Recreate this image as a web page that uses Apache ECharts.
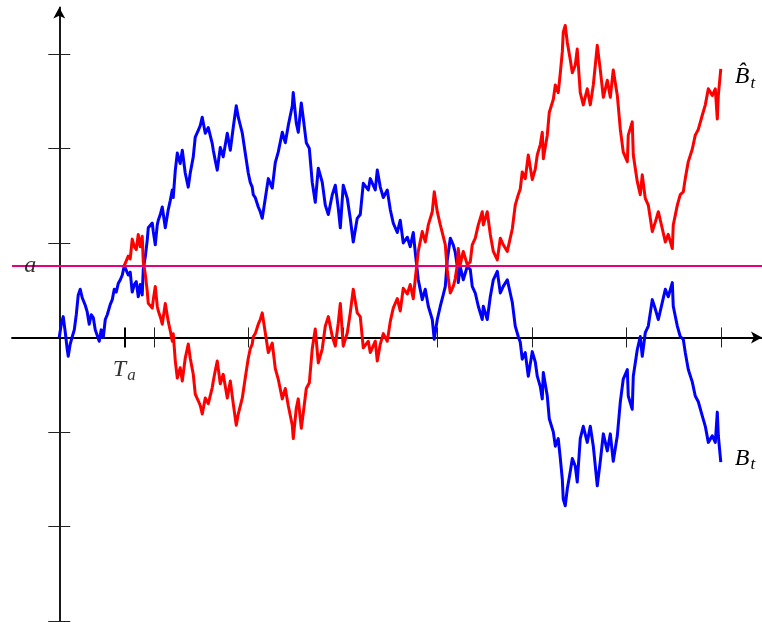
<!DOCTYPE html>
<html>
<head>
<meta charset="utf-8">
<script src="https://cdn.jsdelivr.net/npm/echarts@6/dist/echarts.min.js"></script>
<style>
  html, body { margin: 0; padding: 0; background: #fff; }
  #chart { width: 762px; height: 622px; }
</style>
</head>
<body>
<div id="chart"></div>
<script>
// Barrier level a and its first hitting time T_a
const aLevel = 0.76;
const hitTime = 0.688;

// Path B_t before T_a
const tBefore = [0, .021, .042, .063, .085, .095, .116, .138, .159, .180, .201, .222, .243, .275, .296, .317,
  .339, .360, .381, .402, .423, .444, .466, .487, .508, .540, .561, .582, .603, .624, .646, .667];
const bBefore = [0, .14, .22, .06, -.13, -.20, -.07, .01, .08, .24, .45, .51, .42, .34, .27, .14,
  .24, .21, .08, .02, -.04, .08, 0, .19, .24, .35, .40, .51, .48, .57, .61, .66];

// Times after T_a
const tAfter = [
  .709, .730, .751, .772, .794, .815, .836, .857, .878, .889,
  .910, .931, .942, .963, .984, .995, 1.016, 1.037, 1.048, 1.069,
  1.090, 1.122, 1.153, 1.175, 1.196, 1.206, 1.228, 1.249, 1.280, 1.302,
  1.333, 1.365, 1.386, 1.418, 1.439, 1.471, 1.492, 1.513, 1.545, 1.577,
  1.619, 1.630, 1.651, 1.672, 1.704, 1.735, 1.778, 1.810, 1.841, 1.873,
  1.894, 1.937, 1.968, 2.000, 2.021, 2.042, 2.053, 2.074, 2.106, 2.127,
  2.148, 2.180, 2.212, 2.254, 2.286, 2.317, 2.360, 2.392, 2.423, 2.466,
  2.476, 2.508, 2.529, 2.561, 2.582, 2.614, 2.646, 2.677, 2.709, 2.741,
  2.783, 2.815, 2.847, 2.889, 2.921, 2.952, 2.974, 3.005, 3.048, 3.079,
  3.111, 3.153, 3.185, 3.217, 3.238, 3.270, 3.291, 3.312, 3.344, 3.365,
  3.397, 3.429, 3.471, 3.503, 3.534, 3.577, 3.608, 3.640, 3.683, 3.714,
  3.746, 3.767, 3.799, 3.841, 3.873, 3.905, 3.947, 3.968, 4.000, 4.032,
  4.063, 4.085, 4.106, 4.138, 4.169, 4.190, 4.212, 4.222, 4.243, 4.275,
  4.317, 4.349, 4.370, 4.402, 4.434, 4.476, 4.487, 4.529, 4.561, 4.593,
  4.635, 4.667, 4.698, 4.741, 4.772, 4.794, 4.825, 4.857, 4.878, 4.899,
  4.931, 4.963, 5.005, 5.037, 5.058, 5.090, 5.111, 5.122, 5.164, 5.185,
  5.228, 5.249, 5.280, 5.302, 5.323, 5.333, 5.354, 5.376, 5.407, 5.429,
  5.460, 5.481, 5.513, 5.545, 5.587, 5.619, 5.651, 5.693, 5.725, 5.757,
  5.799, 5.831, 5.862, 5.905, 5.937, 5.968, 6.011, 6.021, 6.063, 6.074,
  6.116, 6.148, 6.169, 6.201, 6.233, 6.275, 6.307, 6.339, 6.381, 6.413,
  6.444, 6.487, 6.497, 6.540, 6.571, 6.603, 6.624, 6.656, 6.698, 6.730,
  6.762, 6.804, 6.836, 6.868, 6.910, 6.942, 6.963, 6.974, 7.000];

// B_t after T_a
const bAfter = [
  .74, .66, .69, .48, .56, .59, .43, .56, .45, .72,
  .85, 1.03, 1.16, 1.14, 1.21, 1.12, .98, 1.19, 1.24, 1.30,
  1.38, 1.16, 1.35, 1.45, 1.56, 1.48, 1.77, 1.95, 1.84, 1.98,
  1.74, 1.59, 1.74, 1.91, 2.12, 2.19, 2.24, 2.33, 2.16, 2.22,
  2.05, 1.98, 1.87, 1.77, 2.01, 1.91, 2.16, 1.98, 2.22, 2.45,
  2.33, 2.16, 1.95, 1.74, 1.64, 1.59, 1.51, 1.48, 1.38, 1.33,
  1.26, 1.47, 1.68, 1.58, 1.85, 1.96, 2.17, 2.06, 2.24, 2.45,
  2.59, 2.27, 2.17, 2.48, 2.32, 2.06, 2.00, 1.64, 1.43, 1.79,
  1.64, 1.40, 1.30, 1.51, 1.61, 1.37, 1.16, 1.61, 1.47, 1.26,
  1.01, 1.26, 1.30, 1.63, 1.61, 1.56, 1.68, 1.70, 1.56, 1.77,
  1.59, 1.48, 1.56, 1.35, 1.21, 1.11, 1.24, 1.00, 1.06, .96,
  1.11, .90, .61, .40, .51, .33, .19, -.02, .19, .33,
  .45, .54, .82, 1.05, .98, .90, .75, .58, .75, .61,
  .75, .72, .54, .47, .33, .19, .33, .19, .43, .61,
  .70, .47, .54, .61, .47, .37, .12, .01, -.05, -.23,
  -.16, -.41, -.15, -.26, -.41, -.52, -.65, -.37, -.62, -.86,
  -1.00, -1.15, -1.07, -1.28, -1.50, -1.71, -1.78, -1.60, -1.42, -1.28,
  -1.36, -1.53, -1.07, -.94, -1.11, -.94, -1.15, -1.57, -1.31, -1.02,
  -1.20, -1.02, -1.31, -1.04, -.68, -.44, -.34, -.62, -.76, -.41,
  -.13, .01, -.20, .05, .12, .40, .30, .19, .37, .51,
  .43, .58, .33, .12, .01, -.02, -.16, -.34, -.47, -.62,
  -.68, -.83, -.94, -1.11, -1.04, -1.11, -.79, -1.04, -1.32];

// Reflected path \hat B_t after T_a
const hatAfter = [
  .78, .86, .83, 1.04, .96, .93, 1.09, .96, 1.07, .80,
  .67, .49, .36, .38, .31, .40, .54, .33, .28, .22,
  .14, .36, .17, .07, -.04, .04, -.25, -.43, -.32, -.46,
  -.22, -.07, -.22, -.39, -.60, -.67, -.72, -.81, -.64, -.70,
  -.53, -.46, -.35, -.25, -.49, -.39, -.64, -.46, -.70, -.93,
  -.81, -.64, -.43, -.22, -.12, -.07, .01, .04, .14, .19,
  .26, .05, -.16, -.06, -.33, -.44, -.65, -.54, -.72, -.93,
  -1.07, -.75, -.65, -.96, -.80, -.54, -.48, -.12, .09, -.27,
  -.12, .12, .22, .01, -.09, .15, .36, -.09, .05, .26,
  .51, .26, .22, -.11, -.09, -.04, -.16, -.18, -.04, -.25,
  -.07, .04, -.04, .17, .31, .41, .28, .52, .46, .56,
  .41, .62, .91, 1.12, 1.01, 1.19, 1.33, 1.54, 1.33, 1.19,
  1.07, .98, .70, .47, .54, .62, .77, .94, .77, .91,
  .77, .80, .98, 1.05, 1.19, 1.33, 1.19, 1.33, 1.09, .91,
  .82, 1.05, .98, .91, 1.05, 1.15, 1.40, 1.51, 1.57, 1.75,
  1.68, 1.93, 1.67, 1.78, 1.93, 2.04, 2.17, 1.89, 2.14, 2.38,
  2.52, 2.67, 2.59, 2.80, 3.02, 3.23, 3.30, 3.12, 2.94, 2.80,
  2.88, 3.05, 2.59, 2.46, 2.63, 2.46, 2.67, 3.09, 2.83, 2.54,
  2.72, 2.54, 2.83, 2.56, 2.20, 1.96, 1.86, 2.14, 2.28, 1.93,
  1.65, 1.51, 1.72, 1.47, 1.40, 1.12, 1.22, 1.33, 1.15, 1.01,
  1.09, .94, 1.19, 1.40, 1.51, 1.54, 1.68, 1.86, 1.99, 2.14,
  2.20, 2.35, 2.46, 2.63, 2.56, 2.63, 2.31, 2.56, 2.84];

// Axis ticks
const xTicks = [1, 2, 3, 4, 5, 6, 7];
const yTicks = [-3, -2, -1, 1, 2, 3];

const xMin = -0.5, xMax = 7.436;
const yMin = -3.01, yMax = 3.49;

const serif = 'Liberation Serif';
const ink = '#000';
const tickStyle = { color: '#222', width: 1 };

const pathData = tBefore.map((t, i) => [t, bBefore[i]])
  .concat([[hitTime, aLevel]])
  .concat(tAfter.map((t, i) => [t, bAfter[i]]));
const n = Math.min(tAfter.length, hatAfter.length);
const hatData = [[hitTime, aLevel]].concat(tAfter.slice(0, n).map((t, i) => [t, hatAfter[i]]));

const mathRich = {
  i: { fontFamily: serif, fontStyle: 'italic', fontSize: 24, color: ink, verticalAlign: 'middle' },
  s: { fontFamily: serif, fontStyle: 'italic', fontSize: 17, color: ink, verticalAlign: 'bottom', padding: [0, 0, -3, 1] }
};

function xAxisBase(extra) {
  return Object.assign({
    type: 'value', min: xMin, max: xMax, position: 'bottom',
    splitLine: { show: false }, axisLabel: { show: false }
  }, extra);
}
function yAxisBase(extra) {
  return Object.assign({
    type: 'value', min: yMin, max: yMax, position: 'left',
    splitLine: { show: false }, axisLabel: { show: false }
  }, extra);
}

const chart = echarts.init(document.getElementById('chart'), null, { renderer: 'canvas' });
chart.setOption({
  animation: false,
  backgroundColor: '#fff',
  grid: { left: 12, right: 0, top: 7.5, bottom: 0, outerBoundsMode: 'none', containLabel: false },
  xAxis: [
    xAxisBase({
      axisLine: { show: true, onZero: true, onZeroAxisIndex: 0, symbol: ['none', 'arrow'], symbolSize: [9, 11],
        lineStyle: { color: ink, width: 1.8 } },
      axisTick: { show: true, inside: false, length: 10, customValues: xTicks, lineStyle: tickStyle }
    }),
    xAxisBase({
      axisLine: { show: false, onZero: true, onZeroAxisIndex: 0 },
      axisTick: { show: true, inside: true, length: 10, customValues: xTicks, lineStyle: tickStyle }
    }),
    xAxisBase({
      axisLine: { show: false, onZero: true, onZeroAxisIndex: 0 },
      axisTick: { show: true, inside: false, length: 10, customValues: [hitTime], lineStyle: { color: ink, width: 2 } }
    }),
    xAxisBase({
      axisLine: { show: false, onZero: true, onZeroAxisIndex: 0 },
      axisTick: { show: true, inside: true, length: 10, customValues: [hitTime], lineStyle: { color: ink, width: 2 } }
    })
  ],
  yAxis: [
    yAxisBase({
      axisLine: { show: true, onZero: true, onZeroAxisIndex: 0, symbol: ['none', 'arrow'], symbolSize: [9, 11],
        lineStyle: { color: ink, width: 1.8 } },
      axisTick: { show: true, inside: false, length: 11, customValues: yTicks, lineStyle: tickStyle }
    }),
    yAxisBase({
      axisLine: { show: false, onZero: true, onZeroAxisIndex: 0 },
      axisTick: { show: true, inside: true, length: 11, customValues: yTicks, lineStyle: tickStyle }
    })
  ],
  series: [
    {
      name: 'B', type: 'line', xAxisIndex: 0, yAxisIndex: 0,
      data: pathData, showSymbol: false, smooth: false,
      lineStyle: { color: '#0000ff', width: 3, join: 'round' },
      endLabel: { show: true, distance: 14, offset: [0, -4], formatter: () => '{i|B}{s|t}', rich: mathRich },
      markLine: {
        silent: true, symbol: 'none', animation: false,
        label: { show: false },
        lineStyle: { color: '#e6007e', width: 2, type: 'solid' },
        data: [{ yAxis: aLevel }]
      }
    },
    {
      name: 'Bhat', type: 'line', xAxisIndex: 0, yAxisIndex: 0,
      data: hatData, showSymbol: false, smooth: false,
      lineStyle: { color: '#ff0000', width: 3, join: 'round' },
      endLabel: { show: true, distance: 14, offset: [0, 8], formatter: () => '{i|B\u0302}{s|t}', rich: mathRich }
    },
    {
      // Axis annotations: T_a under the time axis, a left of the vertical axis
      name: 'marks', type: 'scatter', xAxisIndex: 0, yAxisIndex: 0,
      symbolSize: 0, silent: true, z: 6,
      data: [
        { value: [hitTime, 0], label: { show: true, position: 'bottom', distance: 20, formatter: '{i|T}{s|a}', rich: mathRich } },
        { value: [0, aLevel], label: { show: true, position: 'left', distance: 23, formatter: '{i|a}', rich: mathRich } }
      ]
    }
  ]
});
</script>
</body>
</html>
